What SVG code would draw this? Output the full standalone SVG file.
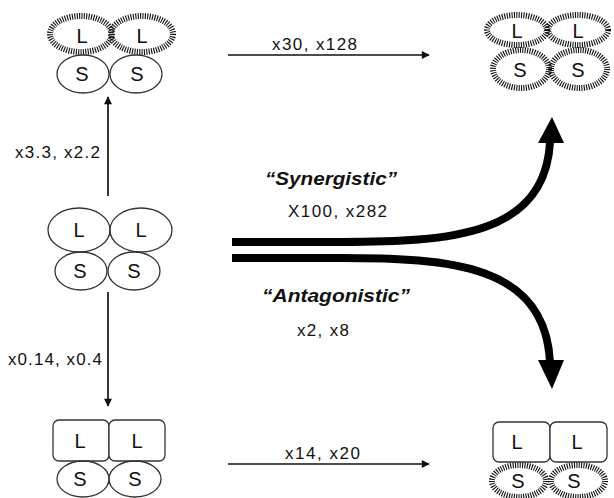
<svg xmlns="http://www.w3.org/2000/svg" width="614" height="498" viewBox="0 0 614 498">
<defs>
<style>
.t{font-family:"Liberation Sans",Arial,sans-serif;fill:#111}
.lab{font-size:17px}
.nl{font-size:20px;text-anchor:middle}
.em{font-size:18px;font-weight:bold;font-style:italic}
.el{fill:none;stroke:#333;stroke-width:1.3}
.sp{fill:none;stroke:#111;stroke-width:6;stroke-dasharray:1.1 1.3}
.spw{fill:#fff;stroke:none}
.rc{fill:#fff;stroke:#333;stroke-width:1.3}
.thin{stroke:#111;stroke-width:1.7;fill:none}
.thick{stroke:#000;stroke-width:8;fill:none}
</style>
<marker id="ah" viewBox="0 0 10 10" refX="9" refY="5" markerWidth="9" markerHeight="8" markerUnits="userSpaceOnUse" orient="auto"><path d="M0,0 L10,5 L0,10 z" fill="#111"/></marker>
</defs>
<rect width="614" height="498" fill="#fff"/>

<g id="node-top-left">
<ellipse class="spw" cx="81" cy="34" rx="31" ry="18"/>
<ellipse class="spw" cx="142" cy="34" rx="31" ry="18"/>
<ellipse class="sp" cx="81" cy="34" rx="31" ry="18"/>
<ellipse class="sp" cx="142" cy="34" rx="31" ry="18"/>
<ellipse class="el" cx="83" cy="74" rx="26" ry="19" fill="#fff"/>
<ellipse class="el" cx="136" cy="74" rx="26" ry="19"/>
<text class="t nl" x="82" y="43">L</text>
<text class="t nl" x="142" y="43">L</text>
<text class="t nl" x="82" y="81">S</text>
<text class="t nl" x="137" y="81">S</text>
</g>

<g id="node-middle">
<ellipse class="el" cx="79" cy="230" rx="31" ry="22"/>
<ellipse class="el" cx="141" cy="230" rx="31" ry="22"/>
<ellipse class="el" cx="81" cy="271" rx="26" ry="19"/>
<ellipse class="el" cx="134" cy="271" rx="26" ry="19"/>
<text class="t nl" x="79" y="237">L</text>
<text class="t nl" x="141" y="237">L</text>
<text class="t nl" x="80" y="278">S</text>
<text class="t nl" x="134" y="278">S</text>
</g>

<g id="node-bottom-left">
<rect class="rc" x="53" y="420" width="56" height="41" rx="6"/>
<rect class="rc" x="109" y="420" width="56" height="41" rx="6"/>
<ellipse class="el" cx="83" cy="479" rx="26" ry="18"/>
<ellipse class="el" cx="135" cy="479" rx="26" ry="18"/>
<text class="t nl" x="80" y="448">L</text>
<text class="t nl" x="137" y="448">L</text>
<text class="t nl" x="80" y="486">S</text>
<text class="t nl" x="135" y="486">S</text>
</g>

<g id="node-top-right">
<ellipse class="spw" cx="517" cy="30" rx="30" ry="15"/>
<ellipse class="spw" cx="578" cy="30" rx="30" ry="15"/>
<ellipse class="spw" cx="521" cy="69" rx="28" ry="19"/>
<ellipse class="spw" cx="579" cy="69" rx="28" ry="19"/>
<ellipse class="sp" cx="517" cy="30" rx="30" ry="15"/>
<ellipse class="sp" cx="578" cy="30" rx="30" ry="15"/>
<ellipse class="sp" cx="521" cy="69" rx="28" ry="19"/>
<ellipse class="sp" cx="579" cy="69" rx="28" ry="19"/>
<text class="t nl" x="517" y="38">L</text>
<text class="t nl" x="578" y="38">L</text>
<text class="t nl" x="520" y="77">S</text>
<text class="t nl" x="578" y="77">S</text>
</g>

<g id="node-bottom-right">
<ellipse class="spw" cx="519" cy="481" rx="27" ry="16"/>
<ellipse class="spw" cx="578" cy="481" rx="27" ry="16"/>
<ellipse class="sp" cx="519" cy="481" rx="27" ry="16"/>
<ellipse class="sp" cx="578" cy="481" rx="27" ry="16"/>
<rect class="rc" x="493" y="422" width="57" height="40" rx="6"/>
<rect class="rc" x="550" y="422" width="57" height="40" rx="6"/>
<text class="t nl" x="517" y="449">L</text>
<text class="t nl" x="577" y="449">L</text>
<text class="t nl" x="518" y="488">S</text>
<text class="t nl" x="574" y="488">S</text>
</g>

<g id="connectors">
<line class="thin" x1="228" y1="55" x2="429" y2="55" marker-end="url(#ah)"/>
<line class="thin" x1="228" y1="464" x2="429" y2="464" marker-end="url(#ah)"/>
<line class="thin" x1="108" y1="196" x2="108" y2="97" marker-end="url(#ah)"/>
<line class="thin" x1="108" y1="292" x2="108" y2="406" marker-end="url(#ah)"/>
<path class="thick" d="M232,242 H340 C450,242 545,236 550,142"/>
<polygon points="552,117 538,143 564,143" fill="#000"/>
<path class="thick" d="M232,258 H340 C450,258 545,264 550,362"/>
<polygon points="552,389 538,360 564,360" fill="#000"/>
</g>

<g id="labels">
<text class="t lab" x="272" y="50" textLength="85" lengthAdjust="spacing">x30,  x128</text>
<text class="t lab" x="285" y="459" textLength="75" lengthAdjust="spacing">x14,  x20</text>
<text class="t lab" x="15" y="158" textLength="85" lengthAdjust="spacing">x3.3,  x2.2</text>
<text class="t lab" x="8" y="365" textLength="94" lengthAdjust="spacing">x0.14,  x0.4</text>
<text class="t em" x="265" y="185" textLength="132" lengthAdjust="spacingAndGlyphs">“Synergistic”</text>
<text class="t lab" x="288" y="217" textLength="99" lengthAdjust="spacing">X100,  x282</text>
<text class="t em" x="262" y="302" textLength="148" lengthAdjust="spacingAndGlyphs">“Antagonistic”</text>
<text class="t lab" x="297" y="336" textLength="52" lengthAdjust="spacing">x2,  x8</text>
</g>
</svg>
